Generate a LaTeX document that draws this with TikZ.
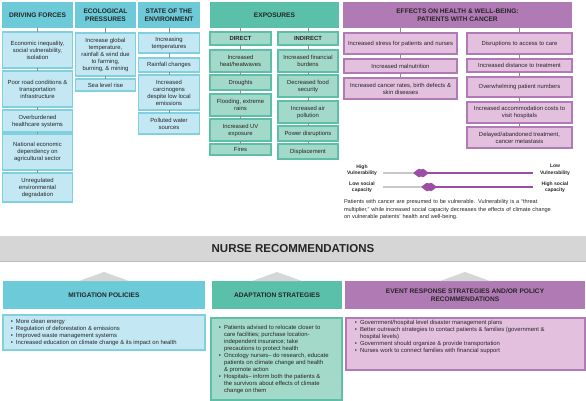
\documentclass[tikz,border=0pt]{standalone}
\usepackage{fontspec}
\setmainfont{Liberation Sans}
\usepackage{enumitem}
\usetikzlibrary{calc}

\definecolor{txt}{HTML}{262626}
\definecolor{cyanhead}{HTML}{6CCAD9}
\definecolor{cyanfill}{HTML}{C3E8F3}
\definecolor{cyanline}{HTML}{80D0DE}
\definecolor{tealhead}{HTML}{5BC0A9}
\definecolor{tealfill}{HTML}{A3D9C8}
\definecolor{tealline}{HTML}{5DBFA8}
\definecolor{purphead}{HTML}{B07AB5}
\definecolor{purpfill}{HTML}{E4C0DF}
\definecolor{purpline}{HTML}{B07AB5}
\definecolor{purpdark}{HTML}{9C4DA6}
\definecolor{banner}{HTML}{D6D6D6}
\definecolor{bannerline}{HTML}{BDBDBD}
\definecolor{linkgray}{HTML}{8F8F8F}
\definecolor{slidegray}{HTML}{C8C8C8}

\newcommand{\bxfont}{\fontsize{5.9}{7}\selectfont}
\newcommand{\hdfont}{\bfseries\fontsize{6.6}{7.8}\selectfont}
\setlist[itemize]{nosep, leftmargin=9pt, labelsep=3pt, label={\textbullet}}

\tikzset{
  base/.style={anchor=north west, inner sep=0pt, outer sep=0pt, align=center, text=txt},
  sz/.style 2 args={minimum width=#1, minimum height=#2},
  head/.style={base, fill=#1, font=\hdfont},
  cbox/.style={base, draw=cyanline, fill=cyanfill, line width=1.2pt, font=\bxfont},
  tbox/.style={base, draw=tealline, fill=tealfill, line width=1.2pt, font=\bxfont},
  pbox/.style={base, draw=purpline, fill=purpfill, line width=1.2pt, font=\bxfont},
  link/.style={draw=linkgray, line width=0.5pt},
  tri/.style={fill=banner},
  knob/.style={fill=purpdark, rounded corners=0.8pt},
  vlabel/.style={align=center, text=txt, inner sep=0pt, font=\bfseries\fontsize{5}{6.5}\selectfont}
}

\begin{document}
\begin{tikzpicture}[x=1pt,y=-1pt]
\useasboundingbox (0,0) rectangle (586,401);

%driving forces
\node[head=cyanhead, sz={71}{26}] (df) at (2,2) {DRIVING FORCES};
\node[cbox, sz={70}{36}] (df1) at (2.5,32) {Economic inequality,\\social vulnerability,\\isolation};
\node[cbox, sz={70}{36}] (df2) at (2.5,71) {Poor road conditions \&\\transportation\\infrastructure};
\node[cbox, sz={70}{22}] (df3) at (2.5,110) {Overburdened\\healthcare systems};
\node[cbox, sz={70}{36}] (df4) at (2.5,134) {National economic\\dependency on\\agricultural sector};
\node[cbox, sz={70}{29}] (df5) at (2.5,173) {Unregulated\\environmental\\degradation};

%ecological pressures
\node[head=cyanhead, sz={61}{26}] (ep) at (75,2) {ECOLOGICAL\\PRESSURES};
\node[cbox, sz={60}{43}] (ep1) at (75.5,33) {Increase global\\temperature,\\rainfall \& wind due\\to farming,\\burning, \& mining};
\node[cbox, sz={60}{12}] (ep2) at (75.5,79) {Sea level rise};

%state of the environment
\node[head=cyanhead, sz={62}{26}] (se) at (138,2) {STATE OF THE\\ENVIRONMENT};
\node[cbox, sz={61}{20}] (se1) at (138.5,33) {Increasing\\temperatures};
\node[cbox, sz={61}{14}] (se2) at (138.5,58) {Rainfall changes};
\node[cbox, sz={61}{35}] (se3) at (138.5,75) {Increased\\carcinogens\\despite low local\\emissions};
\node[cbox, sz={61}{21}] (se4) at (138.5,113) {Polluted water\\sources};

%exposures
\node[head=tealhead, sz={129}{26}] (ex) at (210,2) {EXPOSURES};
\node[tbox, sz={61}{13}, font=\bfseries\bxfont] (dir) at (210,32) {DIRECT};
\node[tbox, sz={60}{13}, font=\bfseries\bxfont] (ind) at (278,32) {INDIRECT};
\node[tbox, sz={61}{22}] (dx1) at (210,50) {Increased\\heat/heatwaves};
\node[tbox, sz={61}{15}] (dx2) at (210,75) {Droughts};
\node[tbox, sz={61}{22}] (dx3) at (210,94) {Flooding, extreme\\rains};
\node[tbox, sz={61}{22}] (dx4) at (210,119) {Increased UV\\exposure};
\node[tbox, sz={61}{11}] (dx5) at (210,144) {Fires};
\node[tbox, sz={60}{22}] (ix1) at (278,50) {Increased financial\\burdens};
\node[tbox, sz={60}{22}] (ix2) at (278,75) {Decreased food\\security};
\node[tbox, sz={60}{22}] (ix3) at (278,101) {Increased air\\pollution};
\node[tbox, sz={60}{15}] (ix4) at (278,126) {Power disruptions};
\node[tbox, sz={60}{15}] (ix5) at (278,144) {Displacement};

%effects on health
\node[head=purphead, sz={229}{26}] (ef) at (343,2) {EFFECTS ON HEALTH \& WELL-BEING:\\PATIENTS WITH CANCER};
\node[pbox, sz={113}{21}] (hl1) at (344,33) {Increased stress for patients and nurses};
\node[pbox, sz={113}{14}] (hl2) at (344,59) {Increased malnutrition};
\node[pbox, sz={113}{21}] (hl3) at (344,78) {Increased cancer rates, birth defects \&\\skin diseases};
\node[pbox, sz={105}{21}] (hr1) at (467,33) {Disruptions to access to care};
\node[pbox, sz={105}{13}] (hr2) at (467,59) {Increased distance to treatment};
\node[pbox, sz={105}{20}] (hr3) at (467,77) {Overwhelming patient numbers};
\node[pbox, sz={105}{21}] (hr4) at (467,102) {Increased accommodation costs to\\visit hospitals};
\node[pbox, sz={105}{21}] (hr5) at (467,127) {Delayed/abandoned treatment,\\cancer metastasis};

%links
\foreach \a/\b in {df/df1,df1/df2,df2/df3,df3/df4,df4/df5,ep/ep1,ep1/ep2,se/se1,se1/se2,se2/se3,se3/se4,
  dir/dx1,dx1/dx2,dx2/dx3,dx3/dx4,dx4/dx5,ind/ix1,ix1/ix2,ix2/ix3,ix3/ix4,ix4/ix5,
  hl1/hl2,hl2/hl3,hr1/hr2,hr2/hr3,hr3/hr4,hr4/hr5}
  \draw[link] (\a.south) -- (\b.north);
\draw[link] (dir.north |- ex.south) -- (dir.north);
\draw[link] (ind.north |- ex.south) -- (ind.north);
\draw[link] (hl1.north |- ef.south) -- (hl1.north);
\draw[link] (hr1.north |- ef.south) -- (hr1.north);

%vulnerability sliders
\node[vlabel] (vl) at (362,170) {High\\Vulnerability};
\node[vlabel] (vr) at (555,170) {Low\\Vulnerability};
\node[vlabel] (cl) at (362,187) {Low social\\capacity};
\node[vlabel] (cr) at (555,187) {High social\\capacity};
\coordinate (v1a) at (383,173);
\coordinate (v1m) at (421,173);
\coordinate (v1b) at (533,173);
\coordinate (v2a) at (383,187);
\coordinate (v2m) at (429,187);
\coordinate (v2b) at (533,187);
\draw[slidegray, line width=1.4pt] (v1a) -- (v1m);
\draw[purpdark, line width=1.4pt] (v1m) -- (v1b);
\draw[slidegray, line width=1.4pt] (v2a) -- (v2m);
\draw[purpdark, line width=1.4pt] (v2m) -- (v2b);
\foreach \m in {v1m,v2m}
  \fill[knob] ($(\m)+(-8,0)$) -- ++(6,-4.5) -- ++(2,1.2) -- ++(2,-1.2) -- ++(6,4.5)
    -- ++(-6,4.5) -- ++(-2,-1.2) -- ++(-2,1.2) -- cycle;
\node[base, align=left, text width=232, font=\fontsize{5.6}{7.5}\selectfont] (cap) at (344,199.5)
  {Patients with cancer are presumed to be vulnerable. Vulnerability is a ``threat\\
   multiplier,'' while increased social capacity decreases the effects of climate change\\
   on vulnerable patients' health and well-being.};

%nurse recommendations
\node[base, fill=banner, sz={586}{25}, font=\bfseries\fontsize{11.5}{13}\selectfont] (nurse) at (0,236) {NURSE RECOMMENDATIONS};
\draw[bannerline, line width=0.8pt] (nurse.south west) -- (nurse.south east);

\node[head=cyanhead, sz={202}{28}] (mit) at (3,281) {MITIGATION POLICIES};
\node[head=tealhead, sz={130}{28}] (ada) at (212,281) {ADAPTATION STRATEGIES};
\node[head=purphead, sz={240}{28}] (evt) at (345,281) {EVENT RESPONSE STRATEGIES AND/OR POLICY\\RECOMMENDATIONS};
\foreach \h in {mit,ada,evt}
  \fill[tri] ($(\h.north)+(-25,0)$) -- ($(\h.north)+(0,-9)$) -- ($(\h.north)+(25,0)$) -- cycle;

\node[cbox, sz={202}{35}] (mitb) at (3,315) {\begin{minipage}[c][33pt][c]{194pt}\raggedright
  \begin{itemize}
  \item More clean energy
  \item Regulation of deforestation \& emissions
  \item Improved waste management systems
  \item Increased education on climate change \& its impact on health
  \end{itemize}\end{minipage}};
\node[tbox, sz={131}{82}] (adab) at (211,318) {\begin{minipage}[c][78pt][c]{123pt}\raggedright
  \begin{itemize}
  \item Patients advised to relocate closer to\newline care facilities; purchase location-\newline independent insurance; take\newline precautions to protect health
  \item Oncology nurses-- do research, educate\newline patients on climate change and health\newline \& promote action
  \item Hospitals-- inform both the patients \&\newline the survivors about effects of climate\newline change on them
  \end{itemize}\end{minipage}};
\node[pbox, sz={239}{52}] (evtb) at (346,318) {\begin{minipage}[c][48pt][t]{229pt}\raggedright
  \begin{itemize}
  \item Government/hospital level disaster management plans
  \item Better outreach strategies to contact patients \& families (government \&\newline hospital levels)
  \item Government should organize \& provide transportation
  \item Nurses work to connect families with financial support
  \end{itemize}\end{minipage}};

\end{tikzpicture}
\end{document}
